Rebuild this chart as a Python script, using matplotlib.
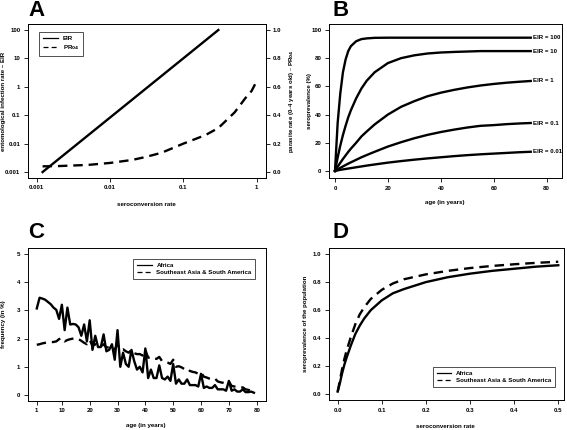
import matplotlib.pyplot as plt
from matplotlib.ticker import FixedLocator, NullLocator

plt.rcParams["font.family"] = ["Liberation Sans", "DejaVu Sans"]

# ---- data ----
# A: EIR and PR04 vs seroconversion rate
a_sero_eir = [0.0012, 0.01, 0.1, 0.3]
a_eir = [0.001, 0.083, 10.1, 100]
a_sero_pr = [0.0012, 0.002, 0.005, 0.01, 0.02, 0.03, 0.05, 0.1, 0.2, 0.3, 0.5, 0.7, 0.85, 1.0]
a_pr04 = [0.04, 0.042, 0.05, 0.064, 0.085, 0.105, 0.135, 0.2, 0.26, 0.31, 0.42, 0.52, 0.57, 0.64]

# B: seroprevalence by age for several EIR
b_age = [0, 1, 2, 3, 4, 5, 6, 8, 10, 12, 15, 20, 25, 30, 35, 40, 45, 50, 55, 60, 65, 70, 74]
b_labels = ["EIR = 100", "EIR = 10", "EIR = 1", "EIR = 0.1", "EIR = 0.01"]
b_eir100 = [0, 34, 55, 70, 79, 85, 88.5, 92, 93.5, 94, 94.4, 94.5, 94.5, 94.5, 94.5, 94.5,
            94.5, 94.5, 94.5, 94.5, 94.5, 94.5, 94.5]
b_eir10 = [0, 9.5, 18, 25.5, 32, 38, 43, 51.5, 58.5, 64, 70, 76.5, 80, 82, 83.3, 84, 84.4,
           84.7, 85, 85, 85, 85, 85]
b_eir1 = [0, 3, 5.8, 8.5, 11, 13.5, 15.8, 20, 24.5, 28, 33, 40, 45.5, 49.5, 53, 55.5, 57.5,
          59.2, 60.6, 61.7, 62.6, 63.3, 63.8]
b_eir01 = [0, 1.1, 2.2, 3.2, 4.2, 5.2, 6.1, 7.9, 9.7, 11.3, 13.6, 17.3, 20.4, 23.2, 25.6,
           27.6, 29.3, 30.8, 32, 32.5, 33.2, 33.7, 34]
b_eir001 = [0, 0.4, 0.8, 1.1, 1.4, 1.7, 2, 2.6, 3.2, 3.8, 4.6, 5.9, 7, 8, 8.9, 9.7, 10.5,
            11.2, 11.8, 12.3, 12.8, 13.3, 13.6]

# C: age frequency (%)
c_age = list(range(1, 80))
c_africa = [3.07, 3.45, 3.42, 3.38, 3.3, 3.22, 3.1, 3.02, 2.7, 3.2,
            2.3, 3.1, 2.5, 2.52, 2.5, 2.4, 2.1, 2.5, 1.9, 2.65,
            1.6, 2.1, 1.7, 1.7, 2.15, 1.55, 1.6, 1.8, 1.25, 2.3,
            1.0, 1.5, 1.1, 1.0, 1.6, 1.2, 0.9, 1.0, 0.8, 1.65,
            0.6, 0.9, 0.6, 0.6, 1.05, 0.6, 0.55, 0.65, 0.5, 1.1,
            0.4, 0.55, 0.4, 0.4, 0.55, 0.35, 0.35, 0.35, 0.3, 0.75,
            0.25, 0.3, 0.25, 0.25, 0.35, 0.2, 0.2, 0.2, 0.15, 0.5,
            0.15, 0.2, 0.12, 0.12, 0.2, 0.1, 0.1, 0.12, 0.08]
c_asia = [1.78, 1.8, 1.83, 1.85, 1.87, 1.87, 1.88, 1.9, 1.98, 2.02,
          1.9, 1.95, 1.98, 2.0, 2.02, 1.98, 1.92, 1.85, 1.8, 1.95,
          1.75, 1.8, 1.75, 1.72, 1.8, 1.68, 1.7, 1.68, 1.62, 1.8,
          1.6, 1.62, 1.55, 1.5, 1.6, 1.48, 1.45, 1.45, 1.4, 1.6,
          1.32, 1.35, 1.3, 1.28, 1.35, 1.2, 1.18, 1.15, 1.1, 1.25,
          1.0, 1.02, 0.98, 0.92, 0.95, 0.85, 0.82, 0.8, 0.75, 0.8,
          0.65, 0.62, 0.58, 0.55, 0.58, 0.48, 0.45, 0.43, 0.4, 0.48,
          0.32, 0.3, 0.28, 0.25, 0.27, 0.2, 0.18, 0.15, 0.1]

# D: seroprevalence vs seroconversion rate
d_sero = [0, 0.005, 0.01, 0.015, 0.02, 0.03, 0.04, 0.05, 0.06, 0.075, 0.1, 0.125, 0.15,
          0.2, 0.25, 0.3, 0.35, 0.4, 0.45, 0.5]
d_africa = [0.02, 0.08, 0.15, 0.21, 0.26, 0.35, 0.43, 0.49, 0.54, 0.60, 0.67, 0.72, 0.75,
            0.80, 0.835, 0.86, 0.88, 0.895, 0.91, 0.92]
d_asia = [0.02, 0.1, 0.18, 0.25, 0.31, 0.41, 0.50, 0.57, 0.62, 0.68, 0.745, 0.79, 0.82,
          0.855, 0.88, 0.90, 0.915, 0.927, 0.937, 0.945]

# ---- figure ----
W, H = 567, 430
fig = plt.figure(figsize=(W / 100, H / 100), dpi=100)
FS = 4.4
FW = "bold"
plt.rcParams["font.weight"] = FW
LW = 1.7
DASH = (4, 2.5)


def rect(l, r, t, b):
    return [l / W, 1 - b / H, (r - l) / W, (b - t) / H]


def rstyle(ax):
    for s in ax.spines.values():
        s.set_linewidth(0.7)
    ax.tick_params(direction="out", length=3, width=0.6, labelsize=FS, pad=2.5)


def ftext(x, y, s, **kw):
    fig.text(x / W, 1 - y / H, s, **kw)


def rlegend(ax, **kw):
    leg = ax.legend(fontsize=FS, fancybox=False, edgecolor="k", handlelength=2.4,
                    borderpad=0.6, labelspacing=0.35, handletextpad=0.8, **kw)
    leg.get_frame().set_linewidth(0.6)
    for ln in leg.get_lines():
        ln.set_linewidth(0.9)
    return leg


# panel A
ax = fig.add_axes(rect(28, 265.5, 24.3, 177.7))
ax.plot(a_sero_eir, a_eir, color="k", lw=LW, label="EIR")
ax.set_xscale("log")
ax.set_yscale("log")
ax.set_xlim(0.001 * 10 ** -0.12, 10 ** 0.12)
ax.set_ylim(0.001 * 10 ** -0.2, 100 * 10 ** 0.2)
ax.xaxis.set_major_locator(FixedLocator([0.001, 0.01, 0.1, 1]))
ax.yaxis.set_major_locator(FixedLocator([0.001, 0.01, 0.1, 1, 10, 100]))
ax.xaxis.set_minor_locator(NullLocator())
ax.yaxis.set_minor_locator(NullLocator())
ax.set_xticklabels(["0.001", "0.01", "0.1", "1"])
ax.set_yticklabels(["0.001", "0.01", "0.1", "1", "10", "100"])
rstyle(ax)
ax2 = ax.twinx()
ax2.plot(a_sero_pr, a_pr04, color="k", lw=LW, dashes=DASH, label="PR$_{04}$")
ax2.set_ylim(-0.04, 1.04)
ax2.set_yticks([0, 0.2, 0.4, 0.6, 0.8, 1.0])
ax2.set_yticklabels(["0.0", "0.2", "0.4", "0.6", "0.8", "1.0"])
rstyle(ax2)
h1, l1 = ax.get_legend_handles_labels()
h2, l2 = ax2.get_legend_handles_labels()
rlegend(ax, handles=h1 + h2, labels=l1 + l2, loc="upper left",
        bbox_to_anchor=(0.035, 0.97))
ftext(146, 205, "seroconversion rate", fontsize=FS, ha="center", va="center")
ftext(4, 101, "entomological infection rate – EIR", fontsize=FS, ha="center",
      va="center", rotation=90)
ftext(291, 101, "parasite rate (0–4 years old) – PR$_{04}$", fontsize=FS, ha="center",
      va="center", rotation=90)
ftext(28, 10, "A", fontsize=16, fontweight="bold", ha="left", va="center")

# panel B
ax = fig.add_axes(rect(329, 561.7, 24.3, 178))
for vals, lab in zip([b_eir100, b_eir10, b_eir1, b_eir01, b_eir001], b_labels):
    ax.plot(b_age, vals, color="k", lw=LW)
    ax.text(75, vals[-1], lab, fontsize=FS, ha="left", va="center")
ax.set_xlim(-2.27, 85.7)
ax.set_ylim(-5, 104)
ax.set_xticks([0, 20, 40, 60, 80])
ax.set_yticks([0, 20, 40, 60, 80, 100])
rstyle(ax)
ftext(445, 202, "age (in years)", fontsize=FS, ha="center", va="center")
ftext(309, 101, "seroprevalence (%)", fontsize=FS, ha="center", va="center", rotation=90)
ftext(332, 10, "B", fontsize=16, fontweight="bold", ha="left", va="center")

# panel C
ax = fig.add_axes(rect(28, 265.5, 248.4, 400.6))
ax.plot(c_age, c_africa, color="k", lw=LW, label="Africa")
ax.plot(c_age, c_asia, color="k", lw=LW, dashes=DASH, label="Southeast Asia & South America")
ax.set_xlim(1 - 0.04 * 79, 80 + 0.04 * 79)
ax.set_ylim(-0.2, 5.2)
ax.set_xticks([1, 10, 20, 30, 40, 50, 60, 70, 80])
ax.set_yticks([0, 1, 2, 3, 4, 5])
rstyle(ax)
rlegend(ax, loc="upper right", bbox_to_anchor=(0.97, 0.95))
ftext(146, 426, "age (in years)", fontsize=FS, ha="center", va="center")
ftext(4, 324, "frequency (in %)", fontsize=FS, ha="center", va="center", rotation=90)
ftext(28, 233, "C", fontsize=16, fontweight="bold", ha="left", va="center")

# panel D
ax = fig.add_axes(rect(329.3, 564, 248.4, 400))
ax.plot(d_sero, d_africa, color="k", lw=LW, label="Africa")
ax.plot(d_sero, d_asia, color="k", lw=LW, dashes=DASH, label="Southeast Asia & South America")
ax.set_xlim(-0.019, 0.513)
ax.set_ylim(-0.04, 1.04)
ax.set_xticks([0, 0.1, 0.2, 0.3, 0.4, 0.5])
ax.set_yticks([0, 0.2, 0.4, 0.6, 0.8, 1.0])
ax.set_xticklabels(["0.0", "0.1", "0.2", "0.3", "0.4", "0.5"])
ax.set_yticklabels(["0.0", "0.2", "0.4", "0.6", "0.8", "1.0"])
rstyle(ax)
rlegend(ax, loc="lower right", bbox_to_anchor=(0.975, 0.065))
ftext(445, 426, "seroconversion rate", fontsize=FS, ha="center", va="center")
ftext(306, 324, "seroprevalence of the population", fontsize=FS, ha="center",
      va="center", rotation=90)
ftext(332, 233, "D", fontsize=16, fontweight="bold", ha="left", va="center")

fig.savefig("out.png", dpi=100)
